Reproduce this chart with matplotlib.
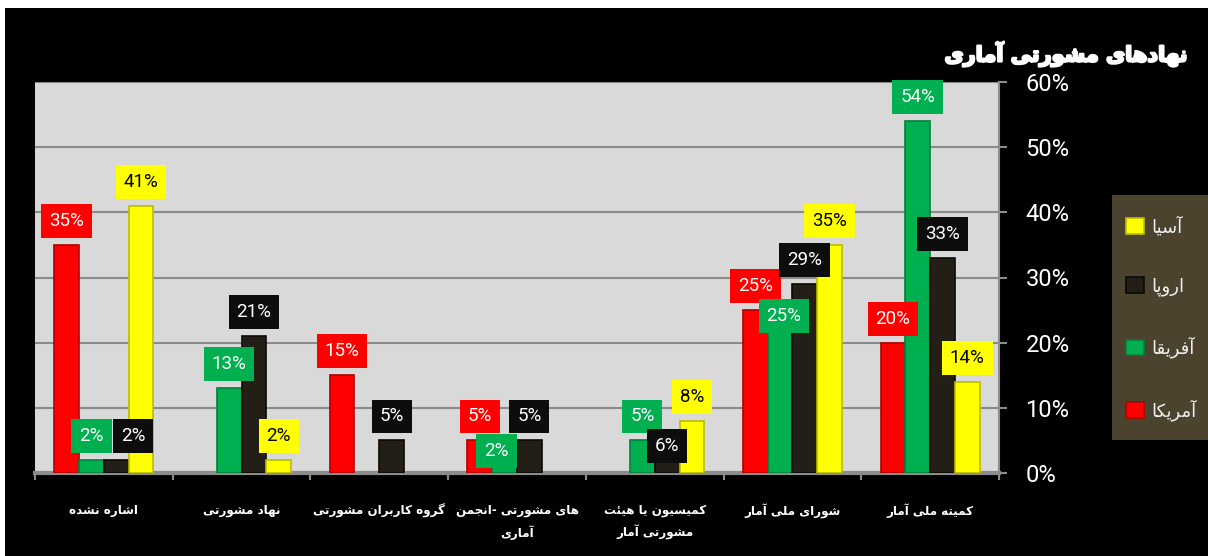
import matplotlib
matplotlib.use('Agg')
import matplotlib.pyplot as plt
from matplotlib.patches import Rectangle, Patch
import matplotlib.patheffects as pe
import numpy as np

# ---- data ----
categories = ['اشاره نشده', 'نهاد مشورتی', 'گروه کاربران مشورتی',
              'های مشورتی -انجمن\nآماری', 'کمیسیون یا هیئت\nمشورتی آمار',
              'شورای ملی آمار', 'کمیته ملی آمار']
series_names = ['آمریکا', 'آفریقا', 'اروپا', 'آسیا']
america = [35, 0, 15, 5, 0, 25, 20]
africa = [2, 13, 0, 2, 5, 25, 54]
europe = [2, 21, 5, 5, 6, 29, 33]
asia = [41, 2, 0, 0, 8, 35, 14]
yticks = [0, 10, 20, 30, 40, 50, 60]
title = 'نهادهای مشورتی آماری'

bar_colors = ['#ff0000', '#00b050', '#231f16', '#ffff00']
edge_colors = ['#b00000', '#00803a', '#0b0a06', '#bdbd00']
box_colors = ['#ff0000', '#00b050', '#0d0d0d', '#ffff00']
text_colors = ['white', 'white', 'white', 'black']

# labels that had to be moved off their default spot (pixels)
label_nudge = {(2, 0): (17, 0), (1, 3): (-8, -15), (2, 4): (0, -36), (1, 5): (4, -30)}

# ---- minimal arabic/persian shaping (matplotlib draws glyphs left to right) ----
FORMS = {
    'ا': ('\uFE8D', '\uFE8E'), 'آ': ('\uFE81', '\uFE82'),
    'د': ('\uFEA9', '\uFEAA'), 'ر': ('\uFEAD', '\uFEAE'), 'و': ('\uFEED', '\uFEEE'),
    'ب': ('\uFE8F', '\uFE90', '\uFE91', '\uFE92'), 'پ': ('\uFB56', '\uFB57', '\uFB58', '\uFB59'),
    'ت': ('\uFE95', '\uFE96', '\uFE97', '\uFE98'), 'ج': ('\uFE9D', '\uFE9E', '\uFE9F', '\uFEA0'),
    'س': ('\uFEB1', '\uFEB2', '\uFEB3', '\uFEB4'), 'ش': ('\uFEB5', '\uFEB6', '\uFEB7', '\uFEB8'),
    'ف': ('\uFED1', '\uFED2', '\uFED3', '\uFED4'), 'ق': ('\uFED5', '\uFED6', '\uFED7', '\uFED8'),
    'ک': ('\uFB8E', '\uFB8F', '\uFB90', '\uFB91'), 'گ': ('\uFB92', '\uFB93', '\uFB94', '\uFB95'),
    'ل': ('\uFEDD', '\uFEDE', '\uFEDF', '\uFEE0'), 'م': ('\uFEE1', '\uFEE2', '\uFEE3', '\uFEE4'),
    'ن': ('\uFEE5', '\uFEE6', '\uFEE7', '\uFEE8'), 'ه': ('\uFEE9', '\uFEEA', '\uFEEB', '\uFEEC'),
    'ی': ('\uFBFC', '\uFBFD', '\uFBFE', '\uFBFF'), 'ئ': ('\uFE89', '\uFE8A', '\uFE8B', '\uFE8C'),
}


def shape_line(s):
    out = []
    for i, ch in enumerate(s):
        if ch not in FORMS:
            out.append(ch)
            continue
        prev = s[i - 1] if i > 0 else ''
        nxt = s[i + 1] if i + 1 < len(s) else ''
        forms = FORMS[ch]
        join_prev = prev in FORMS and len(FORMS[prev]) == 4
        join_next = nxt in FORMS and len(forms) == 4
        if join_prev and join_next:
            out.append(forms[3])
        elif join_prev:
            out.append(forms[1])
        elif join_next:
            out.append(forms[2])
        else:
            out.append(forms[0])
    return ''.join(out)[::-1]


def fa(s):
    return '\n'.join(shape_line(line) for line in s.split('\n'))


# ---- figure ----
fig = plt.figure(figsize=(12.08, 5.56), dpi=100, facecolor='white')
fig.patches.append(Rectangle((5 / 1208, 0), 1, 1 - 8 / 556, transform=fig.transFigure,
                             facecolor='black', edgecolor='none', zorder=-10))
# legend panel
fig.patches.append(Rectangle((1112 / 1208, 1 - 440 / 556), 96 / 1208, 245 / 556,
                             transform=fig.transFigure, facecolor='#4b432e',
                             edgecolor='none', zorder=-5))

ax = fig.add_axes([35 / 1208, 1 - 473 / 556, 964 / 1208, 391 / 556], zorder=1)
ax.set_facecolor('#d9d9d9')

x = np.arange(len(categories))
w = 0.18
offsets = [-1.5, -0.5, 0.5, 1.5]
all_values = [america, africa, europe, asia]

for si, vals in enumerate(all_values):
    xs = x + offsets[si] * w
    heights = [v if v > 0 else np.nan for v in vals]
    ax.bar(xs, heights, width=w, color=bar_colors[si], edgecolor=edge_colors[si],
           linewidth=1.2, zorder=3)
    for ci, v in enumerate(vals):
        if v <= 0:
            continue
        dx, dy = label_nudge.get((si, ci), (0, 0))
        ax.annotate(f'{v}%', xy=(xs[ci], v), xytext=(dx, 24 + dy), textcoords='offset pixels',
                    ha='center', va='center', fontsize=13.5, family='Roboto',
                    color=text_colors[si], zorder=5,
                    bbox=dict(boxstyle='square,pad=0.42', facecolor=box_colors[si],
                              edgecolor='none'))

ax.set_xlim(-0.5, len(categories) - 0.5)
ax.set_ylim(0, 60)
ax.set_yticks(yticks)
ax.set_yticklabels([f'{t}%' for t in yticks])
ax.yaxis.tick_right()
ax.tick_params(axis='y', colors='#8c8c8c', length=6, width=1.5, pad=13,
               labelcolor='white', labelsize=17)
for lab in ax.get_yticklabels():
    lab.set_family('Roboto')
ax.grid(axis='y', color='#8a8a8a', linewidth=1.5, zorder=1)

ax.set_xticks(x)
ax.set_xticklabels([fa(c) for c in categories], fontsize=8.6, fontweight='bold',
                   color='white', family='DejaVu Sans', linespacing=1.75)
ax.set_xticks(np.arange(len(categories) + 1) - 0.5, minor=True)
ax.tick_params(axis='x', which='major', length=0, pad=22)
ax.tick_params(axis='x', which='minor', length=5, width=1.5, color='#8c8c8c')

for side in ['left', 'top']:
    ax.spines[side].set_visible(False)
ax.spines['right'].set_color('#8c8c8c')
ax.spines['right'].set_linewidth(1.5)
ax.spines['bottom'].set_color('#8c8c8c')
ax.spines['bottom'].set_linewidth(3)

fig.text(1188 / 1208, 1 - 54 / 556, fa(title), ha='right', va='center', color='white',
         fontsize=15, fontweight='heavy', family='DejaVu Sans', zorder=5,
         path_effects=[pe.withStroke(linewidth=1.6, foreground='white')])

handles = [Patch(facecolor=bar_colors[i], edgecolor=edge_colors[i], linewidth=1.2)
           for i in range(4)][::-1]
leg = fig.legend(handles, [fa(n) for n in series_names][::-1],
                 loc='upper left', bbox_to_anchor=(1112 / 1208, 1 - 202 / 556),
                 frameon=False, handlelength=0.95, handleheight=0.95, handletextpad=0.4,
                 labelspacing=2.26, borderpad=0.8, borderaxespad=0,
                 prop={'family': 'DejaVu Sans', 'size': 13})
for t in leg.get_texts():
    t.set_color('#eeeeee')

fig.savefig('out.png', dpi=100, facecolor=fig.get_facecolor())
